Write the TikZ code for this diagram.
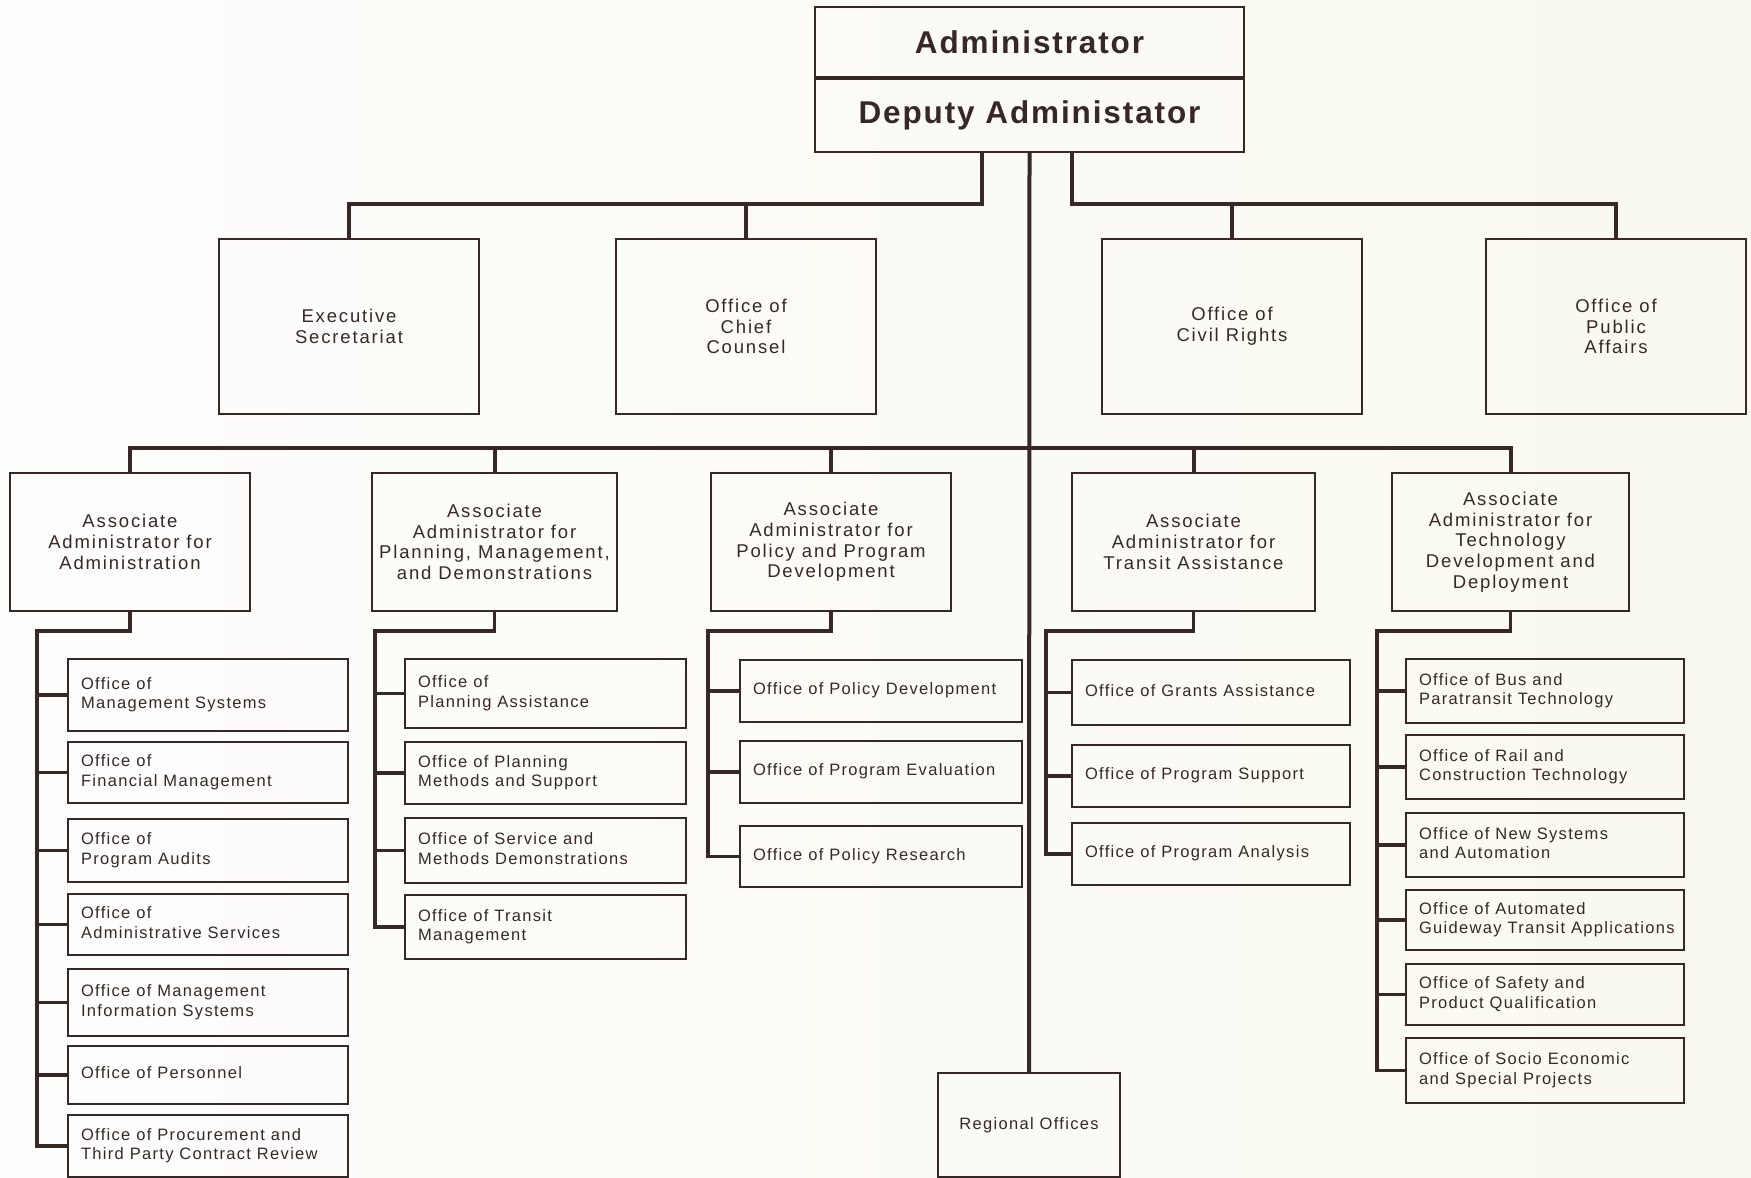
\documentclass[tikz,border=0pt]{standalone}
\usepackage{fontspec}
\setmainfont{Liberation Sans}
\newfontfamily\bodyfont{Liberation Sans}[LetterSpace=8]
\newfontfamily\headfont{Liberation Sans}[LetterSpace=10]
\newfontfamily\topfont{Liberation Sans}[LetterSpace=6]
\definecolor{ink}{RGB}{55,40,38}
\definecolor{paperL}{RGB}{253,253,252}
\definecolor{paperR}{RGB}{250,249,240}
\tikzset{
  box/.style={draw=ink, line width=2pt, text=ink, inner sep=0pt},
  topb/.style={box, font=\topfont\bfseries\fontsize{31.5}{36}\selectfont},
  midbox/.style={box, align=center, font=\headfont\fontsize{18.5}{20.7}\selectfont},
  regbox/.style={box, align=center, font=\bodyfont\fontsize{16.5}{19.5}\selectfont},
  subb/.style={box, inner xsep=13pt, inner ysep=0pt, font=\bodyfont\fontsize{16.5}{19.5}\selectfont},
  conn/.style={draw=ink, line width=4pt},
  spine/.style={draw=ink, line width=3.5pt},
}
\newcommand\subbox[6]{%
  \pgfmathsetmacro\sbW{#4-#2}%
  \pgfmathsetmacro\sbH{#5-#3}%
  \pgfmathsetmacro\sbT{#4-#2-26}%
  \node[subb, minimum width=\sbW, minimum height=\sbH, anchor=north west] (#1) at (#2,#3)
    {\makebox[\sbT pt][l]{\begin{tabular}{@{}l@{}}#6\end{tabular}}};}
\begin{document}
\begin{tikzpicture}[x=1pt,y=-1pt]
\useasboundingbox (0,0) rectangle (1751,1178);
\shade[left color=paperL, right color=paperR] (0,0) rectangle (1751,1178);

% top
\node[topb, minimum width=429, minimum height=70, anchor=north west] (admin) at (814,6) {Administrator};
\node[topb, minimum width=429, minimum height=73, anchor=north west] (deputy) at (admin.south west) {Deputy Administator};

% staff offices
\node[midbox, minimum width=260, minimum height=175, anchor=north west] (exec) at (218,238) {Executive\\Secretariat};
\node[midbox, minimum width=260, minimum height=175, anchor=north west] (counsel) at (615,238) {Office of\\Chief\\Counsel};
\node[midbox, minimum width=260, minimum height=175, anchor=north west] (civil) at (1101,238) {Office of\\Civil Rights};
\node[midbox, minimum width=260, minimum height=175, anchor=north west] (public) at (1485,238) {Office of\\Public\\Affairs};

% associate administrators
\node[midbox, minimum width=240, minimum height=138, anchor=north west] (a1) at (9,472) {Associate\\Administrator for\\Administration};
\node[midbox, minimum width=245, minimum height=138, anchor=north west] (a2) at (371,472) {Associate\\Administrator for\\Planning, Management,\\and Demonstrations};
\node[midbox, minimum width=240, minimum height=138, anchor=north west] (a3) at (710,472) {Associate\\Administrator for\\Policy and Program\\Development};
\node[midbox, minimum width=243, minimum height=138, anchor=north west] (a4) at (1071,472) {Associate\\Administrator for\\Transit Assistance};
\node[midbox, minimum width=237, minimum height=138, anchor=north west] (a5) at (1391,472) {Associate\\Administrator for\\Technology\\Development and\\Deployment};

% regional
\node[regbox, minimum width=182, minimum height=104, anchor=north west] (regional) at (937,1072) {Regional Offices};

% administration offices
\subbox{c11}{67}{658}{347}{730}{Office of\\Management Systems}
\subbox{c12}{67}{741}{347}{802}{Office of\\Financial Management}
\subbox{c13}{67}{818}{347}{881}{Office of\\Program Audits}
\subbox{c14}{67}{893}{347}{954}{Office of\\Administrative Services}
\subbox{c15}{67}{968}{347}{1035}{Office of Management\\Information Systems}
\subbox{c16}{67}{1045}{347}{1103}{Office of Personnel}
\subbox{c17}{67}{1114}{347}{1176}{Office of Procurement and\\Third Party Contract Review}

% planning offices
\subbox{c21}{404}{658}{685}{727}{Office of\\Planning Assistance}
\subbox{c22}{404}{741}{685}{803}{Office of Planning\\Methods and Support}
\subbox{c23}{404}{817}{685}{882}{Office of Service and\\Methods Demonstrations}
\subbox{c24}{404}{894}{685}{958}{Office of Transit\\Management}

% policy offices
\subbox{c31}{739}{659}{1021}{721}{Office of Policy Development}
\subbox{c32}{739}{740}{1021}{802}{Office of Program Evaluation}
\subbox{c33}{739}{825}{1021}{886}{Office of Policy Research}

% transit offices
\subbox{c41}{1071}{659}{1349}{724}{Office of Grants Assistance}
\subbox{c42}{1071}{744}{1349}{806}{Office of Program Support}
\subbox{c43}{1071}{822}{1349}{884}{Office of Program Analysis}

% technology offices
\subbox{c51}{1405}{658}{1683}{722}{Office of Bus and\\Paratransit Technology}
\subbox{c52}{1405}{734}{1683}{798}{Office of Rail and\\Construction Technology}
\subbox{c53}{1405}{812}{1683}{876}{Office of New Systems\\and Automation}
\subbox{c54}{1405}{889}{1683}{949}{Office of Automated\\Guideway Transit Applications}
\subbox{c55}{1405}{963}{1683}{1024}{Office of Safety and\\Product Qualification}
\subbox{c56}{1405}{1037}{1683}{1102}{Office of Socio Economic\\and Special Projects}

% connectors: top
\coordinate (lt) at (982,204);
\coordinate (rt) at (1072,204);
\coordinate (hub) at (1028.5,448);
\draw[conn] (deputy.south -| lt) -- (lt) -| (exec.north);
\draw[conn] (lt) -| (counsel.north);
\draw[conn] (deputy.south -| rt) -- (rt) -| (public.north);
\draw[conn] (rt) -| (civil.north);
\draw[conn] (deputy.south) -- (regional.north);
\draw[conn] (hub) -| (a1.north);
\draw[conn] (hub) -| (a2.north);
\draw[conn] (hub) -| (a3.north);
\draw[conn] (hub) -| (a4.north);
\draw[conn] (hub) -| (a5.north);

% branch spines
\coordinate (s1) at (37,631);
\coordinate (s2) at (375,631);
\coordinate (s3) at (708,631);
\coordinate (s4) at (1046,631);
\coordinate (s5) at (1377,631);
\draw[spine] (a1.south) |- (s1) -- (s1 |- c17.west) -- (c17.west);
\foreach \c in {c11,c12,c13,c14,c15,c16} \draw[spine] (s1 |- \c.west) -- (\c.west);
\draw[spine] (a2.south) |- (s2) -- (s2 |- c24.west) -- (c24.west);
\foreach \c in {c21,c22,c23} \draw[spine] (s2 |- \c.west) -- (\c.west);
\draw[spine] (a3.south) |- (s3) -- (s3 |- c33.west) -- (c33.west);
\foreach \c in {c31,c32} \draw[spine] (s3 |- \c.west) -- (\c.west);
\draw[spine] (a4.south) |- (s4) -- (s4 |- c43.west) -- (c43.west);
\foreach \c in {c41,c42} \draw[spine] (s4 |- \c.west) -- (\c.west);
\draw[spine] (a5.south) |- (s5) -- (s5 |- c56.west) -- (c56.west);
\foreach \c in {c51,c52,c53,c54,c55} \draw[spine] (s5 |- \c.west) -- (\c.west);
\end{tikzpicture}
\end{document}
